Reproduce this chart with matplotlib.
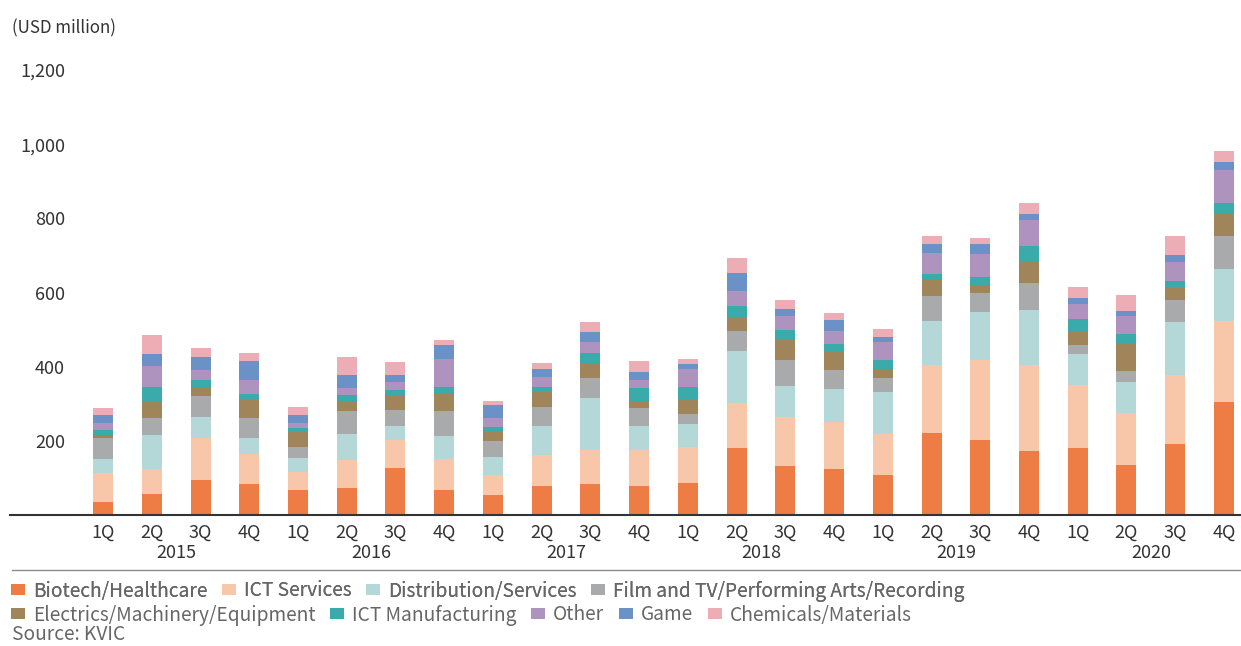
import matplotlib
matplotlib.use("Agg")
import matplotlib.pyplot as plt
from matplotlib.patches import Patch
from matplotlib.lines import Line2D
import numpy as np

plt.rcParams['font.family'] = ['Noto Sans CJK KR', 'DejaVu Sans']

quarters = ["1Q", "2Q", "3Q", "4Q"] * 6
years = ["2015", "2016", "2017", "2018", "2019", "2020"]
series_names = ["Biotech/Healthcare", "ICT Services", "Distribution/Services",
                "Film and TV/Performing Arts/Recording", "Electrics/Machinery/Equipment",
                "ICT Manufacturing", "Other", "Game", "Chemicals/Materials"]

biotech = [35, 57, 94, 83.5, 67, 73, 127.6, 67, 54, 78, 83.5, 78, 86, 180.6, 132, 124,
           108, 221, 202, 172.5, 180.6, 134.7, 191.3, 304.5]
ict_services = [78, 67, 114, 82, 49, 76, 75.4, 83.5, 54, 83.5, 91.7, 97, 97, 121.3, 132, 126.6,
                110.5, 183.2, 215.6, 231.7, 168.8, 139.3, 185.1, 218.3]
distribution = [38, 92, 56, 42, 37, 69, 36.8, 62, 48.5, 78, 140, 64.6, 62, 140.1, 83.5, 89,
                113.2, 118.6, 129.4, 148.3, 84.5, 84.4, 143.7, 140.1]
film = [56.5, 46, 57, 54, 30, 62, 43, 67.4, 43, 51, 54, 48.6, 27, 53.9, 70, 51.2,
        37.7, 67.4, 51.2, 72.7, 24.2, 29.7, 59.3, 89]
electrics = [8, 44, 24, 49, 41, 25, 38.6, 46.7, 27, 40.5, 40.4, 18.8, 37.7, 37.7, 54, 51.2,
             24.3, 45.8, 21.5, 57.5, 35.1, 72.7, 32.3, 60.2]
ict_mfg = [13, 40, 19, 16, 11, 18, 15.3, 18.8, 11, 13.5, 27, 35, 35, 29.6, 27, 18.8,
           24.2, 13.5, 21.6, 42.2, 35, 27, 18.9, 28.7]
other = [19, 56, 27, 37, 12.5, 19, 21.5, 74.6, 24, 27, 29.6, 21.5, 48.5, 40.4, 37.7, 35,
         48.5, 56.6, 62, 70.1, 40.4, 48.5, 51.2, 88.9]
game = [21.5, 32, 35, 51, 21.5, 35, 19, 37.7, 35, 21.5, 27, 21.6, 13.5, 48.5, 18.9, 29.6,
        13.5, 24.2, 26.9, 16.2, 16.2, 13.5, 18.9, 21.6]
chemicals = [18.5, 51, 24, 22, 21.5, 48.5, 35, 14, 11, 16, 27, 29.6, 13.5, 40.4, 24.2, 18.9,
             21.6, 21.6, 16.2, 29.6, 29.6, 43.1, 51.2, 29.7]

series = [biotech, ict_services, distribution, film, electrics, ict_mfg, other, game, chemicals]
colors = ["#ED7D44", "#F8C6A8", "#B4D7D7", "#A9AAAB", "#A0855A",
          "#3AAAAA", "#AF93BF", "#6B92C6", "#EDADB5"]

W, H = 1241, 646
fig = plt.figure(figsize=(W / 100, H / 100), dpi=100)
ax = fig.add_axes([10 / W, (H - 515) / H, (W - 10) / W, (515 - 70) / H])

x = np.arange(len(quarters))
bottom = np.zeros(len(quarters))
for vals, col in zip(series, colors):
    ax.bar(x, vals, width=0.41, bottom=bottom, color=col, linewidth=0)
    bottom += np.array(vals)

ax.set_xlim(-1.91, 23.35)
ax.set_ylim(0, 1200)
ax.set_yticks([200, 400, 600, 800, 1000, 1200])
ax.set_yticklabels(["200", "400", "600", "800", "1,000", "1,200"])
ax.set_xticks(x)
ax.set_xticklabels(quarters)

txtcol = "#333333"
ax.tick_params(axis='y', length=0, pad=-39.6, labelsize=13, labelcolor=txtcol)
ax.tick_params(axis='x', length=0, pad=6.5, labelsize=13, labelcolor=txtcol)
for s in ["top", "right", "left"]:
    ax.spines[s].set_visible(False)
ax.spines["bottom"].set_color("#333333")
ax.spines["bottom"].set_linewidth(1.5)

for k, yr in enumerate(years):
    ax.annotate(yr, xy=(k * 4 + 1.5, 0), xycoords=('data', 'axes fraction'),
                xytext=(0, -38 * 0.72), textcoords='offset points',
                ha='center', va='center', fontsize=13, color=txtcol)

fig.text(12 / W, 1 - 28 / H, "(USD million)", ha='left', va='center', fontsize=12.2, color=txtcol)

# separator line above legend
fig.add_artist(Line2D([12 / W, 1.0], [1 - 570 / H, 1 - 570 / H], transform=fig.transFigure,
                      color="#8c8c8c", linewidth=1.0))

handles = [Patch(facecolor=c, edgecolor='none') for c in colors]
legcol = "#666666"
legkw = dict(loc='center left', frameon=False, fontsize=13.8, handlelength=0.73,
             handleheight=0.47, handletextpad=0.4, columnspacing=0.78,
             borderpad=0, borderaxespad=0, labelcolor=legcol)
leg1 = fig.legend(handles[:4], series_names[:4], bbox_to_anchor=(11 / W, 1 - 591 / H),
                  ncol=4, **legkw)
fig.add_artist(leg1)
leg2 = fig.legend(handles[4:], series_names[4:], bbox_to_anchor=(11 / W, 1 - 615 / H),
                  ncol=5, **legkw)
fig.text(12 / W, 1 - 635 / H, "Source: KVIC", ha='left', va='center', fontsize=13.8, color=legcol)

fig.savefig("out.png", dpi=100)
